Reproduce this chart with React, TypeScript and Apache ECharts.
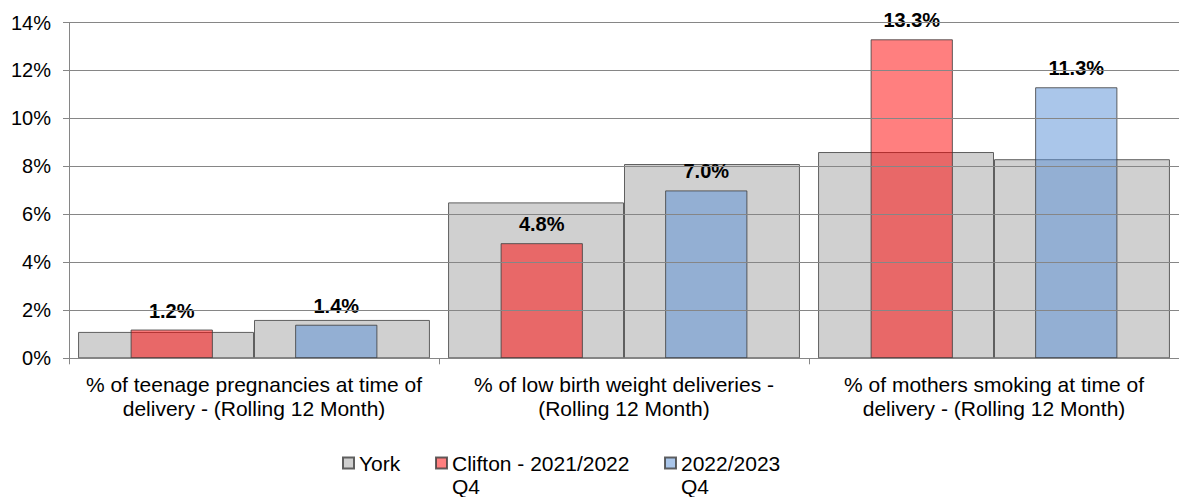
import React, { useEffect, useRef } from "react";
import * as echarts from "echarts";

const categories = [
  "% of teenage pregnancies at time of\ndelivery - (Rolling 12 Month)",
  "% of low birth weight deliveries -\n(Rolling 12 Month)",
  "% of mothers smoking at time of\ndelivery - (Rolling 12 Month)",
];
const yorkPrev = [1.1, 6.5, 8.6];
const yorkCurr = [1.6, 8.1, 8.3];
const clifton2122 = [1.2, 4.8, 13.3];
const clifton2223 = [1.4, 7.0, 11.3];
const seriesNames = ["York", "Clifton - 2021/2022 Q4", "2022/2023 Q4"];
const yMin = 0;
const yMax = 14;
const yInterval = 2;

const FONT = "'Liberation Sans', Arial, sans-serif";
const AXIS_GREY = "#868686";

export default function App() {
  const ref = useRef<HTMLDivElement>(null);
  useEffect(() => {
    const chart = echarts.init(ref.current!, undefined, { renderer: "svg" });
    const label = {
      show: true,
      position: "top",
      distance: 9,
      fontSize: 20,
      fontWeight: "bold",
      color: "#000",
      fontFamily: FONT,
      formatter: (p: any) => Number(p.value).toFixed(1) + "%",
    };
    chart.setOption({
      animation: false,
      textStyle: { fontFamily: FONT },
      grid: { left: 69, right: -4, top: 22.5, bottom: 138.7, containLabel: false },
      legend: {
        left: 342,
        top: 428.5,
        padding: 0,
        itemGap: 0,
        itemWidth: 11,
        itemHeight: 11,
        icon: "rect",
        selectedMode: false,
        textStyle: {
          fontSize: 21,
          lineHeight: 23,
          color: "#000",
          fontFamily: FONT,
        },
        formatter: (name: string) =>
          name.indexOf(" Q4") >= 0 ? "\n" + name.replace(" Q4", "\nQ4") : name,
        data: [
          { name: seriesNames[0], textStyle: { width: 76 } },
          { name: seriesNames[1], textStyle: { width: 212 } },
          { name: seriesNames[2], textStyle: { width: 130 } },
        ],
      },
      xAxis: [
        {
          type: "category",
          data: categories,
          axisLine: { lineStyle: { color: AXIS_GREY, width: 1 } },
          axisTick: { show: true, length: 6, lineStyle: { color: AXIS_GREY } },
          axisLabel: {
            interval: 0,
            fontSize: 21,
            lineHeight: 24,
            color: "#000",
            margin: 14,
            fontFamily: FONT,
          },
        },
        { type: "category", data: categories, show: false, position: "bottom" },
      ],
      yAxis: {
        type: "value",
        min: yMin,
        max: yMax,
        interval: yInterval,
        z: 3,
        axisLine: { show: true, lineStyle: { color: AXIS_GREY } },
        axisTick: { show: true, length: 6, lineStyle: { color: AXIS_GREY } },
        splitLine: { show: true, lineStyle: { color: AXIS_GREY, width: 1 } },
        axisLabel: {
          formatter: "{value}%",
          fontSize: 20,
          color: "#000",
          margin: 18,
          fontFamily: FONT,
        },
      },
      series: [
        {
          name: seriesNames[0],
          type: "bar",
          xAxisIndex: 0,
          data: yorkPrev,
          barGap: "0%",
          barCategoryGap: "4.9%",
          itemStyle: { color: "#d0d0d0", borderColor: "#5f5f5f", borderWidth: 1 },
        },
        {
          name: seriesNames[0],
          type: "bar",
          xAxisIndex: 0,
          data: yorkCurr,
          barGap: "0%",
          barCategoryGap: "4.9%",
          itemStyle: { color: "#d0d0d0", borderColor: "#5f5f5f", borderWidth: 1 },
        },
        {
          name: seriesNames[1],
          type: "bar",
          xAxisIndex: 1,
          data: clifton2122,
          barGap: "100%",
          barCategoryGap: "33.3%",
          itemStyle: { color: "rgba(255,0,0,0.5)", borderColor: "rgba(60,60,60,0.8)", borderWidth: 1 },
          label,
        },
        {
          name: seriesNames[2],
          type: "bar",
          xAxisIndex: 1,
          data: clifton2223,
          barGap: "100%",
          barCategoryGap: "33.3%",
          itemStyle: { color: "rgba(85,142,213,0.5)", borderColor: "rgba(60,60,60,0.8)", borderWidth: 1 },
          label,
        },
      ],
    });
    return () => chart.dispose();
  }, []);
  return (
    <div
      ref={ref}
      style={{ position: "fixed", left: 0, top: 0, width: 1179, height: 497, background: "#fff" }}
    />
  );
}
